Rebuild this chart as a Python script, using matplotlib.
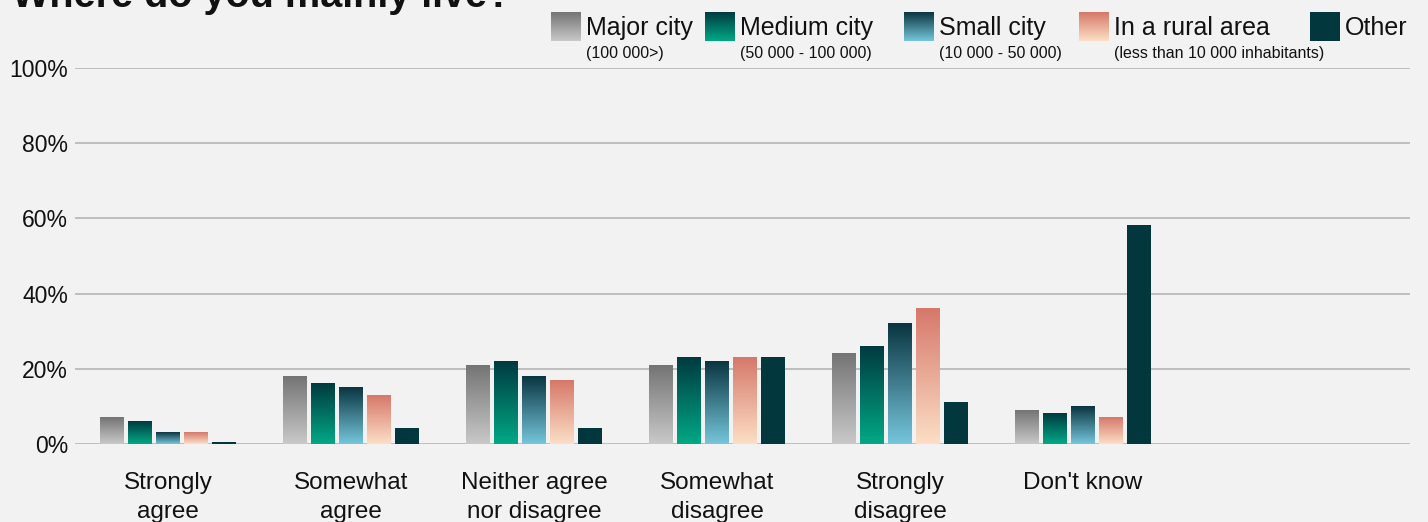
import numpy as np
import matplotlib.pyplot as plt
from matplotlib.colors import LinearSegmentedColormap

plt.rcParams['font.family'] = ['Liberation Sans', 'DejaVu Sans']

categories = ["Strongly\nagree", "Somewhat\nagree", "Neither agree\nnor disagree",
              "Somewhat\ndisagree", "Strongly\ndisagree", "Don't know"]
series = ["Major city", "Medium city", "Small city", "In a rural area", "Other"]
subtitles = ["(100 000>)", "(50 000 - 100 000)", "(10 000 - 50 000)",
             "(less than 10 000 inhabitants)", ""]

major = [7, 18, 21, 21, 24, 9]
medium = [6, 16, 22, 23, 26, 8]
small = [3, 15, 18, 22, 32, 10]
rural = [3, 13, 17, 23, 36, 7]
other = [0.4, 4, 4, 23, 11, 58]
values = [major, medium, small, rural, other]

# top / bottom colour of each series gradient
gradients = [("#747474", "#c9c9c9"),
             ("#003a40", "#00a985"),
             ("#0a3540", "#76c6dc"),
             ("#d6786a", "#fcdfc6"),
             ("#02373d", "#02373d")]

bg = "#f2f2f2"
W, H = 1428, 522

fig = plt.figure(figsize=(W / 100, H / 100), dpi=100, facecolor=bg)
ax = fig.add_axes([75 / W, 78 / H, (1410 - 75) / W, (454 - 78) / H])
ax.set_facecolor(bg)

grad = np.linspace(0, 1, 256).reshape(-1, 1)
cmaps = [LinearSegmentedColormap.from_list("g%d" % i, [b, t]) for i, (t, b) in enumerate(gradients)]

pitch = 0.153
width = 0.131
x = np.arange(len(categories))
for i, vals in enumerate(values):
    for xc, v in zip(x + (i - 2) * pitch, vals):
        ax.imshow(grad, cmap=cmaps[i], origin='lower', aspect='auto',
                  extent=(xc - width / 2, xc + width / 2, 0, v), zorder=3,
                  interpolation='bilinear')

ax.set_xlim(-0.508, 6.787)
ax.set_ylim(0, 100)
ax.set_yticks(np.arange(0, 101, 20))
ax.set_yticklabels(["%d%%" % t for t in range(0, 101, 20)])
ax.set_xticks(x)
ax.set_xticklabels(categories, linespacing=1.4)
ax.tick_params(axis='both', length=0, labelsize=16.5, colors="#111111")
ax.tick_params(axis='x', labelsize=17.5, pad=20)
ax.tick_params(axis='y', pad=5)
ax.grid(axis='y', color="#b5b5b5", linewidth=1.2, zorder=0)
ax.set_axisbelow(True)
for s in ax.spines.values():
    s.set_visible(False)

fig.text(12 / W, 1 - 7 / H, "Where do you mainly live?", fontsize=28.5,
         fontweight='bold', va='baseline', ha='left', color="#111111")

# legend: gradient swatches with labels and size notes
swatch_x = [551, 705, 904, 1079, 1310]
for i, sx in enumerate(swatch_x):
    sax = fig.add_axes([sx / W, 1 - 41 / H, 30 / W, 29 / H])
    sax.imshow(grad, cmap=cmaps[i], origin='lower', aspect='auto',
               interpolation='bilinear')
    sax.axis('off')
    fig.text((sx + 35) / W, 1 - 35 / H, series[i], fontsize=18,
             va='baseline', ha='left', color="#111111")
    if subtitles[i]:
        fig.text((sx + 35) / W, 1 - 58 / H, subtitles[i], fontsize=11.5,
                 va='baseline', ha='left', color="#111111")

fig.savefig("out.png", dpi=100, facecolor=bg)
